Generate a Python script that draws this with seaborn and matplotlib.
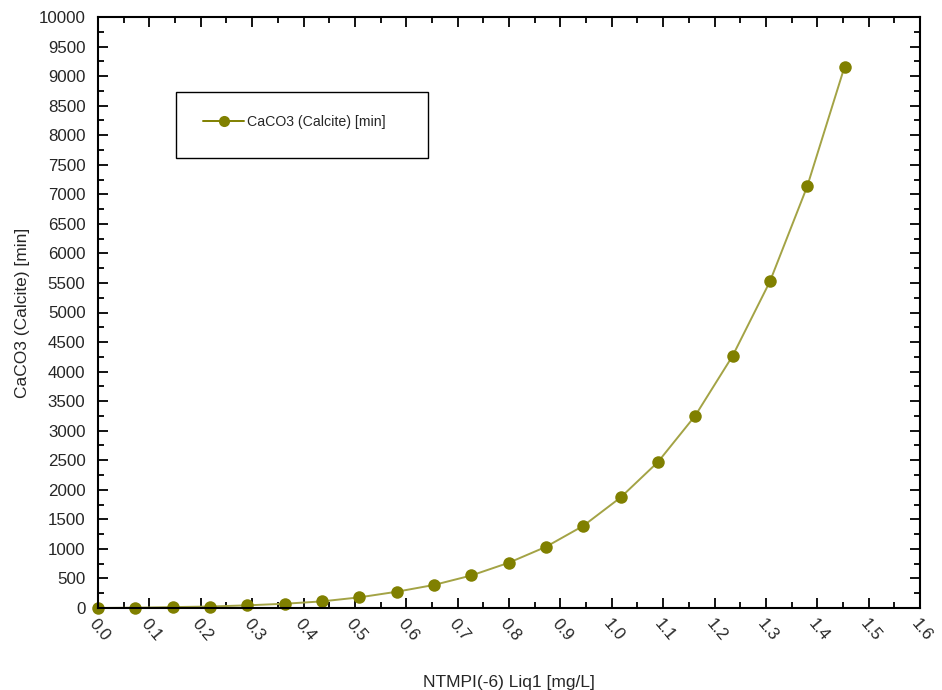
import matplotlib
matplotlib.use("Agg")
import matplotlib.pyplot as plt
import seaborn as sns
import pandas as pd
from matplotlib.ticker import MultipleLocator
from matplotlib.patches import Rectangle

x_values = [0.0, 0.0727, 0.1453, 0.2180, 0.2906, 0.3633, 0.4360, 0.5086, 0.5813,
            0.6539, 0.7266, 0.7993, 0.8719, 0.9446, 1.0172, 1.0899, 1.1626,
            1.2352, 1.3079, 1.3805, 1.4532]
y_values = [0, 5, 15, 25, 45, 72, 112, 180, 275, 390, 550, 765, 1035, 1390,
            1870, 2470, 3255, 4265, 5525, 7135, 9160]
series_name = "CaCO3 (Calcite) [min]"
x_label = "NTMPI(-6) Liq1 [mg/L]"
y_label = "CaCO3 (Calcite) [min]"
x_ticks = [0.0, 0.1, 0.2, 0.3, 0.4, 0.5, 0.6, 0.7, 0.8, 0.9, 1.0, 1.1, 1.2, 1.3, 1.4, 1.5, 1.6]
y_ticks = list(range(0, 10001, 500))

sns.set_style("ticks")
plt.rcParams['font.family'] = ['Liberation Sans', 'DejaVu Sans']

df = pd.DataFrame({"x": x_values, "y": y_values, "series": series_name})

W, H = 942, 690
fig = plt.figure(figsize=(W / 100, H / 100), dpi=100)
ax = fig.add_axes([98 / W, 1 - 608 / H, (920 - 98) / W, (608 - 17) / H])

sns.lineplot(data=df, x="x", y="y", hue="series", palette=["#808000"],
             marker="o", markersize=9, markeredgewidth=0, linewidth=1.4,
             ax=ax, legend=True)
for line in ax.lines:
    line.set_color("#a3a345")
    line.set_markerfacecolor("#808000")
    line.set_markeredgecolor("#808000")
    line.set_clip_on(False)

ax.set_xlim(0, 1.6)
ax.set_ylim(0, 10000)
ax.set_xticks(x_ticks)
ax.set_xticklabels([f"{t:.1f}" for t in x_ticks], rotation=-50, ha="left",
                   va="top", rotation_mode="anchor", fontsize=12.2)
ax.set_yticks(y_ticks)
ax.set_yticklabels([str(t) for t in y_ticks], fontsize=12.2)
ax.xaxis.set_minor_locator(MultipleLocator(0.05))
ax.yaxis.set_minor_locator(MultipleLocator(250))
ax.tick_params(which="both", direction="in", top=True, right=True,
               labeltop=False, labelright=False, width=1.3, color="black")
ax.tick_params(which="major", length=7, pad=6)
ax.tick_params(which="minor", length=4)
ax.tick_params(axis="y", which="major", pad=9)
for sp in ax.spines.values():
    sp.set_linewidth(1.5)
    sp.set_color("black")

ax.set_xlabel(x_label, fontsize=12.5, labelpad=22)
ax.set_ylabel(y_label, fontsize=12.5, labelpad=6)

# legend frame (drawn as a rectangle in figure pixels)
fig.patches.append(Rectangle((176 / W, 1 - 158 / H), (428 - 176) / W, (158 - 92) / H,
                             transform=fig.transFigure, fill=False,
                             edgecolor="black", linewidth=1.0, zorder=5))
handles, labels = ax.get_legend_handles_labels()
for h in handles:
    h.set_color("#808000")
    h.set_markersize(8)
leg = ax.legend(handles, labels, loc="center left",
                bbox_to_anchor=(203 / W, 1 - 122 / H), bbox_transform=fig.transFigure,
                frameon=False, fontsize=10.2, borderpad=0,
                handlelength=2.9, handletextpad=0.2, borderaxespad=0)

fig.savefig("out.png", dpi=100)
